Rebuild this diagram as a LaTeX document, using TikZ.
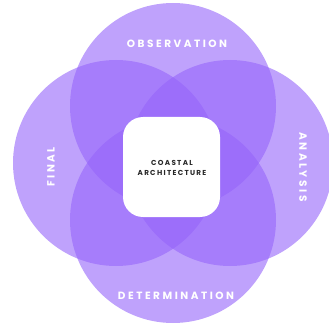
\documentclass[tikz,border=0pt]{standalone}
\usepackage{fontspec}
\usepackage{tikz}
\newfontfamily\petalfont{Poppins}[LetterSpace=24]
\newfontfamily\corefont{Poppins}[LetterSpace=18]
\definecolor{lilac}{RGB}{149,100,250}
\definecolor{corefg}{RGB}{40,40,40}

\begin{document}
\begin{tikzpicture}[x=1pt,y=-1pt]
    \tikzstyle{petal}=[circle,minimum size=206pt,inner sep=0pt,fill=lilac,fill opacity=0.6]
    \tikzstyle{core}=[rounded corners=20pt,minimum width=97pt,minimum height=100pt,fill=white]
    \tikzstyle{lbl}=[text=white,font=\petalfont\bfseries\fontsize{10.5}{12}\selectfont]
    \tikzstyle{mid}=[text=corefg,align=center,font=\corefont\bfseries\fontsize{7.2}{9.5}\selectfont]

    \useasboundingbox (0,0) rectangle (329,326);

    \node(obs) [petal] at (173,106) {};
    \node(ana) [petal] at (230,163) {};
    \node(det) [petal] at (173,220) {};
    \node(fin) [petal] at (116,163) {};

    \node(core) [core] at (171.5,167) {};
    \node(title) [mid] at (172,168) {COASTAL\\ARCHITECTURE};

    \node(tobs) [lbl] at (177,44) {OBSERVATION};
    \node(tdet) [lbl] at (176,296) {DETERMINATION};
    \node(tfin) [lbl,rotate=90] at (51,167) {FINAL};
    \node(tana) [lbl,rotate=-90] at (303,167) {ANALYSIS};

\end{tikzpicture}
\end{document}
